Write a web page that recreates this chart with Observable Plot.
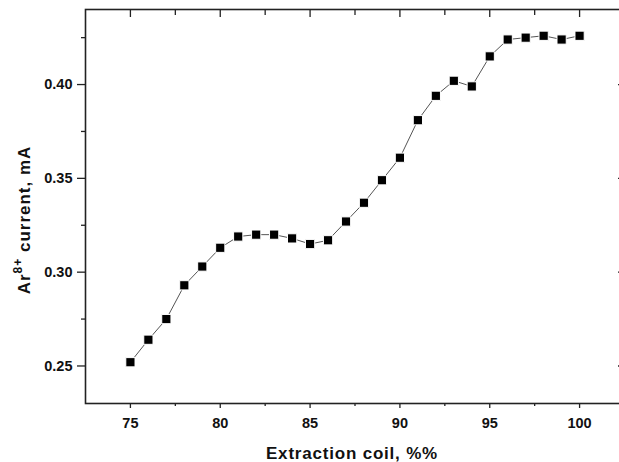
<!DOCTYPE html>
<html>
<head>
<meta charset="utf-8">
<script src="https://cdn.jsdelivr.net/npm/d3@7"></script>
<script src="https://cdn.jsdelivr.net/npm/@observablehq/plot@0.6"></script>
<style>
  html, body { margin: 0; padding: 0; background: #fff; overflow: hidden; }
  #chart { width: 619px; height: 462px; overflow: hidden; }
  #chart svg { max-width: none !important; display: block; }
</style>
</head>
<body>
<div id="chart"></div>
<script>
const coil = [75, 76, 77, 78, 79, 80, 81, 82, 83, 84, 85, 86, 87, 88, 89, 90, 91, 92, 93, 94, 95, 96, 97, 98, 99, 100];
const current = [0.252, 0.264, 0.275, 0.293, 0.303, 0.313, 0.319, 0.320, 0.320, 0.318, 0.315, 0.317, 0.327, 0.337, 0.349, 0.361, 0.381, 0.394, 0.402, 0.399, 0.415, 0.424, 0.425, 0.426, 0.424, 0.426];
const xMajor = [75, 80, 85, 90, 95, 100];
const xMinor = [77.5, 82.5, 87.5, 92.5, 97.5];
const yMajor = [0.25, 0.30, 0.35, 0.40];
const yMinor = [0.275, 0.325, 0.375, 0.425];
const xLabel = "Extraction coil, %%";
const yLabelParts = ["Ar", "8+", " current, mA"];

const data = coil.map((c, i) => ({coil: c, current: current[i]}));
const font = "'Liberation Sans', Arial, sans-serif";
const blank = () => "";

const plot = Plot.plot({
  width: 625,
  height: 462,
  marginLeft: 85,
  marginRight: 1,
  marginTop: 9,
  marginBottom: 59,
  x: {domain: [72.5, 102.5]},
  y: {domain: [0.23, 0.44]},
  style: {fontFamily: font, fontSize: "14.5px", fontWeight: "bold", color: "#111", background: "#fff", maxWidth: "none"},
  marks: [
    Plot.axisX({ticks: xMajor, anchor: "bottom", tickSize: 5, tickPadding: 9, tickFormat: d => String(d), label: null, stroke: "#222", strokeWidth: 1.3}),
    Plot.axisX({ticks: xMinor, anchor: "bottom", tickSize: 3, tickFormat: blank, label: null, stroke: "#222", strokeWidth: 1.3}),
    Plot.axisX({ticks: xMajor, anchor: "top", tickSize: -7, tickFormat: blank, label: null, stroke: "#222", strokeWidth: 1.3}),
    Plot.axisX({ticks: xMinor, anchor: "top", tickSize: -5, tickFormat: blank, label: null, stroke: "#222", strokeWidth: 1.3}),
    Plot.axisY({ticks: yMajor, anchor: "left", tickSize: 8, tickPadding: 5, tickFormat: d => d.toFixed(2), label: null, stroke: "#222", strokeWidth: 1.3}),
    Plot.axisY({ticks: yMinor, anchor: "left", tickSize: 4, tickFormat: blank, label: null, stroke: "#222", strokeWidth: 1.3}),
    Plot.axisY({ticks: yMajor, anchor: "right", tickSize: -7, tickFormat: blank, label: null, stroke: "#222", strokeWidth: 1.3}),
    Plot.axisY({ticks: yMinor, anchor: "right", tickSize: -4, tickFormat: blank, label: null, stroke: "#999", strokeWidth: 1}),
    Plot.frame({stroke: "#222", strokeWidth: 1.6}),
    Plot.line(data, {x: "coil", y: "current", stroke: "#555", strokeWidth: 1}),
    Plot.dot(data, {x: "coil", y: "current", symbol: "square", r: 5.2, fill: "#000", stroke: "#fff", strokeWidth: 1})
  ]
});

document.getElementById("chart").appendChild(plot);
const svg = d3.select(plot);

svg.append("text")
  .attr("x", 352)
  .attr("y", 459)
  .attr("text-anchor", "middle")
  .attr("font-family", font)
  .attr("font-size", 17)
  .attr("font-weight", "bold")
  .attr("letter-spacing", "0.8px")
  .attr("fill", "#111")
  .text(xLabel);

const yl = svg.append("text")
  .attr("transform", "translate(30,220) rotate(-90)")
  .attr("text-anchor", "middle")
  .attr("font-family", font)
  .attr("font-size", 17)
  .attr("font-weight", "bold")
  .attr("letter-spacing", "1px")
  .attr("fill", "#111");
yl.append("tspan").text(yLabelParts[0]);
yl.append("tspan").attr("font-size", 12).attr("dy", -8).text(yLabelParts[1]);
yl.append("tspan").attr("dy", 8).text(yLabelParts[2]);
</script>
</body>
</html>
